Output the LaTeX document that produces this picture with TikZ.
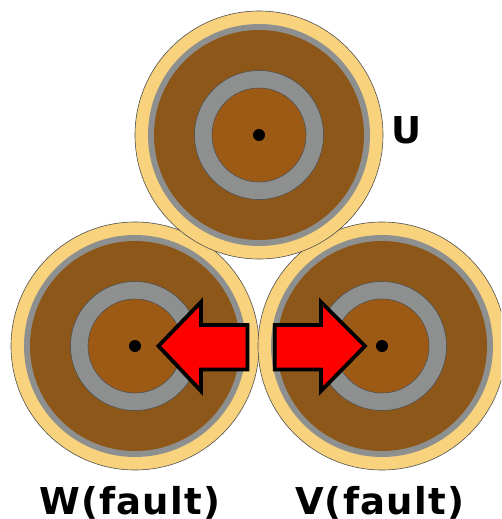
\documentclass[tikz,border=0pt]{standalone}
\usepackage{fontspec}
\setmainfont{DejaVu Sans}
\newfontfamily\labelfont[LetterSpace=3.5]{DejaVu Sans}
\definecolor{jacket}{HTML}{F8D27C}
\definecolor{shield}{HTML}{8E9090}
\definecolor{insul}{HTML}{8C5719}
\definecolor{core}{HTML}{9C5A14}
\definecolor{edge}{HTML}{505050}
\tikzset{
  disc/.style={circle,inner sep=0pt,outer sep=0pt,minimum size=#1},
  cjacket/.style={disc=248pt,fill=jacket,draw=edge,line width=0.6pt},
  cshield/.style={disc=222pt,fill=shield},
  cinsul/.style={disc=210pt,fill=insul},
  cring/.style={disc=129pt,fill=shield,draw=edge,line width=0.6pt},
  ccore/.style={disc=94pt,fill=core,draw=edge,line width=0.6pt},
  cdot/.style={disc=12pt,fill=black},
  faultarrow/.style={fill=red,draw=black,line width=3.8pt,miter limit=10},
  lbl/.style={inner sep=0pt,outer sep=0pt,font=\fontsize{37}{37}\selectfont\labelfont\bfseries}
}
\begin{document}
\begin{tikzpicture}[x=1pt,y=-1pt]
\useasboundingbox (0,0) rectangle (501,519);
\clip (0,0) rectangle (501,519);
\foreach \n/\cx/\cy in {w/135/346,v/382/346,u/259/135}{
  \node[cjacket] (\n jacket) at (\cx,\cy) {};
  \node[cshield] (\n shield) at (\cx,\cy) {};
  \node[cinsul] (\n insul) at (\cx,\cy) {};
  \node[cring] (\n ring) at (\cx,\cy) {};
  \node[ccore] (\n core) at (\cx,\cy) {};
  \node[cdot] (\n dot) at (\cx,\cy) {};
}
\draw[faultarrow] (158.5,346) -- (201,302) -- (201,325) -- (247.5,325) -- (247.5,369.5) -- (201,369.5) -- (201,391) -- cycle;
\draw[faultarrow] (365,346) -- (321,302) -- (321,325) -- (274.7,325) -- (274.7,369.5) -- (321,369.5) -- (321,391) -- cycle;
\node[lbl,anchor=base west] (ulabel) at (391,143) {U};
\node[lbl,anchor=base west] (wlabel) at (39,514) {W(fault)};
\node[lbl,anchor=base west] (vlabel) at (295,514) {V(fault)};
\end{tikzpicture}
\end{document}
